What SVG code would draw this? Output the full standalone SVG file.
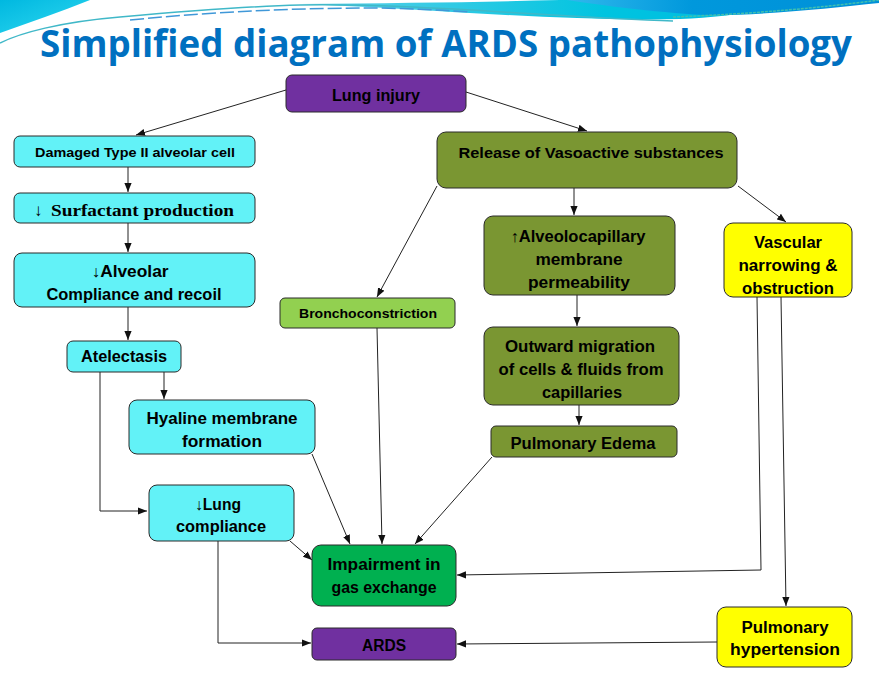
<svg xmlns="http://www.w3.org/2000/svg" width="879" height="691" viewBox="0 0 879 691">
<defs>
<style>
.box{stroke:#2a2a2a;stroke-width:1}
.cy{fill:#62F2F7}
.pu{fill:#7030A0}
.ol{fill:#7A9632}
.lg{fill:#92D050}
.gr{fill:#00B050}
.ye{fill:#FFFF00}
.t{font-family:"Liberation Sans",Arial,sans-serif;font-weight:bold;fill:#000;text-anchor:middle}
.s13{font-size:13px}
.s15{font-size:15px}
.s16{font-size:16px}
.ser{font-family:"Liberation Serif","Times New Roman",serif;font-weight:bold;font-size:17px;fill:#000}
.c{fill:none;stroke:#222;stroke-width:1;marker-end:url(#ah)}
</style>
<marker id="ah" viewBox="0 0 10 10" refX="10" refY="5" markerWidth="9" markerHeight="9" markerUnits="userSpaceOnUse" orient="auto">
<path d="M0,1 L10,5 L0,9 z" fill="#111"/>
</marker>
<linearGradient id="gTL" x1="0" y1="0" x2="1" y2="1">
<stop offset="0" stop-color="#00B8E0"/><stop offset="1" stop-color="#30D8F0"/>
</linearGradient>
<linearGradient id="gTR" x1="0" y1="0" x2="1" y2="0">
<stop offset="0" stop-color="#30B8EC"/><stop offset="0.4" stop-color="#0098DC"/><stop offset="1" stop-color="#0090D8"/>
</linearGradient>
<linearGradient id="gC" x1="0" y1="0" x2="1" y2="0">
<stop offset="0" stop-color="#60D0E8"/><stop offset="0.6" stop-color="#00C4E0"/><stop offset="1" stop-color="#00B8E0"/>
</linearGradient>
</defs>
<rect width="879" height="691" fill="#fff"/>
<g id="header">
<path d="M0,0 L90,0 C60,12 30,22 0,33 Z" fill="url(#gTL)"/>
<path d="M300,4 C420,8 560,22 680,19 C730,17 770,10 810,0 L560,0 C480,2 400,3 300,4 Z" fill="url(#gC)"/>
<path d="M567,0 L879,0 L879,3 C830,8 760,16 705,15 C650,12 600,5 567,0 Z" fill="url(#gTR)"/>
<path d="M0,43 C20,33 60,22 120,17 C200,10 260,6 300,5 C420,3 560,18 673,21" fill="none" stroke="#40B8C8" stroke-width="1.5"/>
<path d="M673,17 C750,14 820,8 879,0" fill="none" stroke="#40C0B0" stroke-width="1.5" stroke-dasharray="3 1"/>
<path d="M130,20 C220,11 300,8 380,8 C420,9 440,10 470,12" fill="none" stroke="#4098D8" stroke-width="1.5" stroke-dasharray="14 4"/>
</g>
<text x="446" y="57" font-family="'Open Sans','Liberation Sans',sans-serif" font-weight="bold" font-size="38" fill="#0070C0" text-anchor="middle" textLength="812" lengthAdjust="spacingAndGlyphs">Simplified diagram of ARDS pathophysiology</text>

<g id="connectors">
<path class="c" d="M286,90 L136,135"/>
<path class="c" d="M466,92 L587,131"/>
<path class="c" d="M128,167 L128,192"/>
<path class="c" d="M128,223 L128,252"/>
<path class="c" d="M128,307 L128,340"/>
<path class="c" d="M164,372 L164,399"/>
<path class="c" d="M100,372 L100,511 L147,511"/>
<path class="c" d="M312,454 L350,544"/>
<path class="c" d="M290,541 L312,560"/>
<path class="c" d="M218,541 L218,643 L311,643"/>
<path class="c" d="M437,186 L377,297"/>
<path class="c" d="M377,328 L382,544"/>
<path class="c" d="M574,188 L574,215"/>
<path class="c" d="M577,295 L577,326"/>
<path class="c" d="M579,405 L579,425"/>
<path class="c" d="M492,457 L415,544"/>
<path class="c" d="M738,186 L786,222"/>
<path class="c" d="M757,297 L761,570 L457,575"/>
<path class="c" d="M781,297 L786,606"/>
<path class="c" d="M717,642 L457,644"/>
</g>

<g id="lung-injury"><rect class="box pu" x="286" y="75" width="180" height="37" rx="6"/><text class="t s16" x="376" y="101" textLength="88" lengthAdjust="spacingAndGlyphs">Lung injury</text></g>
<g id="damaged"><rect class="box cy" x="14" y="136" width="241" height="31" rx="6"/><text class="t s13" x="135" y="157" textLength="200" lengthAdjust="spacingAndGlyphs">Damaged Type II alveolar cell</text></g>
<g id="surfactant"><rect class="box cy" x="14" y="193" width="241" height="30" rx="6"/><text class="ser" x="34" y="216">↓</text><text class="ser" x="51" y="216" textLength="183" lengthAdjust="spacingAndGlyphs">Surfactant production</text></g>
<g id="alveolar"><rect class="box cy" x="14" y="253" width="241" height="54" rx="8"/><text class="t s16" x="130" y="277" textLength="77" lengthAdjust="spacingAndGlyphs">↓Alveolar</text><text class="t s16" x="134" y="300" textLength="175" lengthAdjust="spacingAndGlyphs">Compliance and recoil</text></g>
<g id="atelectasis"><rect class="box cy" x="67" y="341" width="114" height="31" rx="6"/><text class="t s16" x="124" y="362" textLength="86" lengthAdjust="spacingAndGlyphs">Atelectasis</text></g>
<g id="hyaline"><rect class="box cy" x="129" y="400" width="186" height="54" rx="8"/><text class="t s16" x="222" y="424" textLength="151" lengthAdjust="spacingAndGlyphs">Hyaline membrane</text><text class="t s16" x="222" y="447" textLength="80" lengthAdjust="spacingAndGlyphs">formation</text></g>
<g id="lung-compliance"><rect class="box cy" x="149" y="485" width="145" height="56" rx="8"/><text class="t s16" x="218" y="510" textLength="46" lengthAdjust="spacingAndGlyphs">↓Lung</text><text class="t s16" x="221" y="532" textLength="90" lengthAdjust="spacingAndGlyphs">compliance</text></g>
<g id="broncho"><rect class="box lg" x="280" y="298" width="175" height="30" rx="5"/><text class="t s13" x="368" y="318" textLength="138" lengthAdjust="spacingAndGlyphs">Bronchoconstriction</text></g>
<g id="release"><rect class="box ol" x="437" y="132" width="300" height="56" rx="9"/><text class="t s15" x="591" y="158" textLength="265" lengthAdjust="spacingAndGlyphs">Release of Vasoactive substances</text></g>
<g id="alveolocapillary"><rect class="box ol" x="484" y="216" width="191" height="79" rx="9"/><text class="t s16" x="578" y="242" textLength="135" lengthAdjust="spacingAndGlyphs">↑Alveolocapillary</text><text class="t s16" x="579" y="265" textLength="87" lengthAdjust="spacingAndGlyphs">membrane</text><text class="t s16" x="579" y="288" textLength="102" lengthAdjust="spacingAndGlyphs">permeability</text></g>
<g id="outward"><rect class="box ol" x="484" y="327" width="195" height="78" rx="9"/><text class="t s16" x="580" y="352" textLength="150" lengthAdjust="spacingAndGlyphs">Outward migration</text><text class="t s16" x="581" y="375" textLength="165" lengthAdjust="spacingAndGlyphs">of cells &amp; fluids from</text><text class="t s16" x="582" y="398" textLength="80" lengthAdjust="spacingAndGlyphs">capillaries</text></g>
<g id="edema"><rect class="box ol" x="491" y="426" width="186" height="31" rx="5"/><text class="t s16" x="583" y="449" textLength="145" lengthAdjust="spacingAndGlyphs">Pulmonary Edema</text></g>
<g id="vascular"><rect class="box ye" x="724" y="223" width="128" height="74" rx="9"/><text class="t s16" x="788" y="248" textLength="68" lengthAdjust="spacingAndGlyphs">Vascular</text><text class="t s16" x="788" y="271" textLength="99" lengthAdjust="spacingAndGlyphs">narrowing &amp;</text><text class="t s16" x="788" y="294" textLength="92" lengthAdjust="spacingAndGlyphs">obstruction</text></g>
<g id="impairment"><rect class="box gr" x="312" y="545" width="144" height="61" rx="9"/><text class="t s16" x="384" y="570" textLength="113" lengthAdjust="spacingAndGlyphs">Impairment in</text><text class="t s16" x="384" y="593" textLength="105" lengthAdjust="spacingAndGlyphs">gas exchange</text></g>
<g id="ards"><rect class="box pu" x="312" y="628" width="144" height="32" rx="5"/><text class="t s16" x="384" y="651" textLength="44" lengthAdjust="spacingAndGlyphs">ARDS</text></g>
<g id="pulm-htn"><rect class="box ye" x="717" y="607" width="135" height="60" rx="9"/><text class="t s16" x="785" y="633" textLength="87" lengthAdjust="spacingAndGlyphs">Pulmonary</text><text class="t s16" x="785" y="655" textLength="110" lengthAdjust="spacingAndGlyphs">hypertension</text></g>
</svg>
